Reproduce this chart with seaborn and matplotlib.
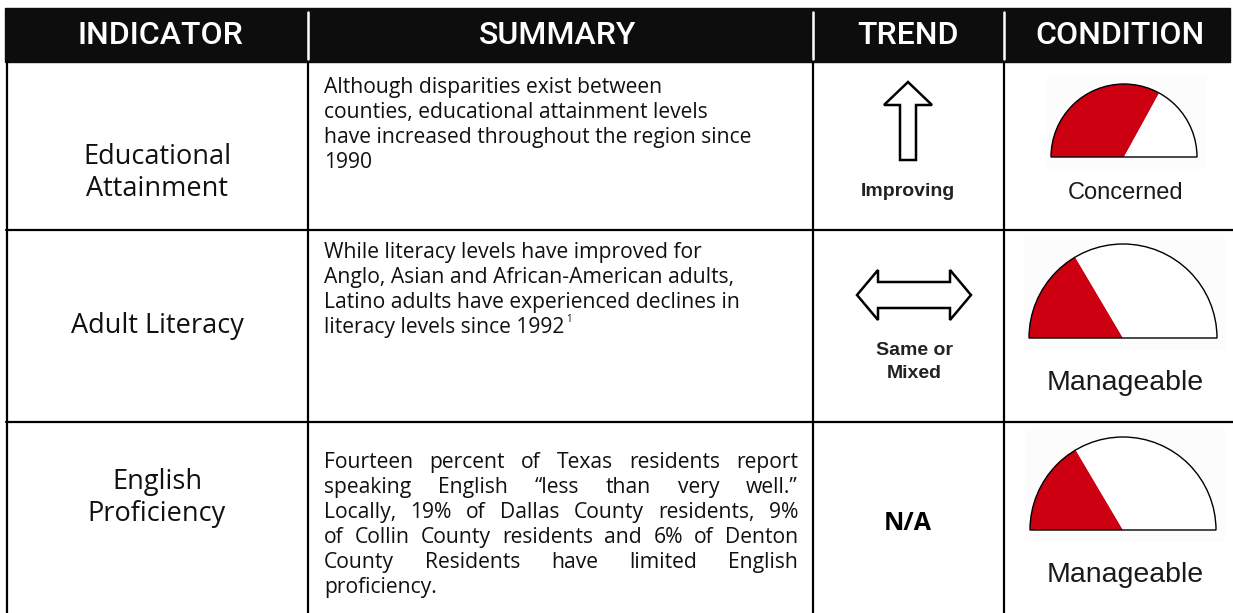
import numpy as np
import pandas as pd
import seaborn as sns
import matplotlib
matplotlib.use("Agg")
import matplotlib.pyplot as plt
from matplotlib import font_manager
from matplotlib.patches import Rectangle, Wedge, Polygon

# ---------------- data ----------------
headers = ["INDICATOR", "SUMMARY", "TREND", "CONDITION"]
indicators = ["Educational\nAttainment", "Adult Literacy", "English\nProficiency"]
summary_row1 = ["Although disparities exist between",
                "counties, educational attainment levels",
                "have increased throughout the region since",
                "1990"]
summary_row2 = ["While literacy levels have improved for",
                "Anglo, Asian and African-American adults,",
                "Latino adults have experienced declines in",
                "literacy levels since 1992"]
summary_row3 = ["Fourteen percent of Texas residents report",
                "speaking English \u201cless than very well.\u201d",
                "Locally, 19% of Dallas County residents, 9%",
                "of Collin County residents and 6% of Denton",
                "County Residents have limited English",
                "proficiency."]
footnotes = ["", "1", ""]
trend_labels = ["Improving", "Same or\nMixed", "N/A"]
trend_icons = ["up", "both", "none"]
condition_labels = ["Concerned", "Manageable", "Manageable"]
condition_levels = [0.66, 0.33, 0.33]   # share of gauge in red

# ---------------- style ----------------
sns.set_theme(style="white")
installed = {f.name for f in font_manager.fontManager.ttflist}
def pick(*names):
    for n in names:
        if n in installed:
            return n
    return "DejaVu Sans"
HEAD_FONT = pick("Liberation Sans Narrow", "DejaVu Sans Condensed", "Roboto", "Open Sans")
BODY_FONT = pick("Open Sans", "Noto Sans", "Lato")
ICON_FONT = pick("Liberation Sans", "Arial", "DejaVu Sans")
plt.rcParams["font.family"] = [BODY_FONT, "DejaVu Sans"]

W, H = 1233, 613
fig = plt.figure(figsize=(W / 100, H / 100), dpi=100)
ax = fig.add_axes([0, 0, 1, 1])
ax.set_xlim(0, W)
ax.set_ylim(H, 0)
ax.axis("off")

col_edges = [6, 308, 813, 1004, 1230]
row_edges = [62, 230, 422, 613]
head_top, head_bot = 8, 62
LW = 1.6
TEXT = "#111111"

# header band
ax.add_patch(Rectangle((5, head_top), 1225, head_bot - head_top, color="#0d0d0d", zorder=1))
for x in col_edges[1:4]:
    ax.plot([x, x], [head_top + 4, head_bot - 3], color="white", lw=1.8, zorder=2)
head_centers = [160, 558, 908, 1120]
for hx, t in zip(head_centers, headers):
    ax.text(hx, 36, t, color="white", fontsize=23, fontfamily=HEAD_FONT,
            fontweight="medium", ha="center", va="center", zorder=3)

# grid lines
ax.plot([7, 7], [head_bot, H], color="black", lw=LW, zorder=2)
for x in col_edges[1:4]:
    ax.plot([x, x], [head_bot, H], color="black", lw=LW, zorder=2)
for y in row_edges[1:3]:
    ax.plot([6, W], [y, y], color="black", lw=LW, zorder=2)

# indicator names
ind_y = [173, 326, 498]
for y, t in zip(ind_y, indicators):
    ax.text(157, y, t, fontsize=19.5, color=TEXT, ha="center", va="center",
            linespacing=1.2)

fig.canvas.draw()
renderer = fig.canvas.get_renderer()

def width_of(t):
    return t.get_window_extent(renderer).width

SUM_X, SUM_R = 324, 798
LINE_H = 25
SUM_FS = 15.2
BASE = 6   # baseline offset below the line centre

def ragged(lines, y0, note=""):
    last = None
    for i, ln in enumerate(lines):
        last = ax.text(SUM_X, y0 + i * LINE_H + BASE, ln, fontsize=SUM_FS, color=TEXT,
                       ha="left", va="baseline")
    if note:
        fig.canvas.draw()
        w = width_of(last)
        ax.text(SUM_X + w + 2, y0 + (len(lines) - 1) * LINE_H - 8, note,
                fontsize=7, color=TEXT, ha="left", va="center")

def justified(lines, y0):
    for i, ln in enumerate(lines):
        y = y0 + i * LINE_H + BASE
        words = ln.split(" ")
        if i == len(lines) - 1 or len(words) == 1:
            ax.text(SUM_X, y, ln, fontsize=SUM_FS, color=TEXT, ha="left", va="baseline")
            continue
        objs = [ax.text(0, y, w_, fontsize=SUM_FS, color=TEXT, ha="left", va="baseline")
                for w_ in words]
        fig.canvas.draw()
        widths = [width_of(o) for o in objs]
        gap = (SUM_R - SUM_X - sum(widths)) / (len(words) - 1)
        x = SUM_X
        for o, w_ in zip(objs, widths):
            o.set_x(x)
            x += w_ + gap

ragged(summary_row1, 87, footnotes[0])
ragged(summary_row2, 252, footnotes[1])
justified(summary_row3, 462)

# trend icons
TX = 908
def up_arrow(cx, top, bottom, head_hw, head_len, shaft_hw):
    pts = [(cx, top), (cx + head_hw, top + head_len), (cx + shaft_hw, top + head_len),
           (cx + shaft_hw, bottom), (cx - shaft_hw, bottom), (cx - shaft_hw, top + head_len),
           (cx - head_hw, top + head_len)]
    ax.add_patch(Polygon(pts, closed=True, facecolor="white", edgecolor="black",
                         lw=1.8, joinstyle="miter", zorder=3))

def both_arrow(cx, cy, half_len, head_hh, head_len, shaft_hh):
    l, r = cx - half_len, cx + half_len
    pts = [(l, cy), (l + head_len, cy - head_hh), (l + head_len, cy - shaft_hh),
           (r - head_len, cy - shaft_hh), (r - head_len, cy - head_hh), (r, cy),
           (r - head_len, cy + head_hh), (r - head_len, cy + shaft_hh),
           (l + head_len, cy + shaft_hh), (l + head_len, cy + head_hh)]
    ax.add_patch(Polygon(pts, closed=True, facecolor="white", edgecolor="black",
                         lw=1.8, joinstyle="miter", zorder=3))

trend_icon_y = [121, 295, None]
trend_label_y = [192, 362, 523]
for icon, iy, ly, lab in zip(trend_icons, trend_icon_y, trend_label_y, trend_labels):
    if icon == "up":
        up_arrow(TX, iy - 39, iy + 39, 24, 23, 8)
        ax.text(TX, ly, lab, fontsize=14, fontweight="bold", fontfamily=ICON_FONT,
                color="#222222", ha="center", va="center")
    elif icon == "both":
        both_arrow(TX + 6, iy, 57, 25, 21, 13)
        ax.text(TX + 6, ly, lab, fontsize=14, fontweight="bold", fontfamily=ICON_FONT,
                color="#222222", ha="center", va="center", linespacing=1.5)
    else:
        ax.text(TX, ly, lab, fontsize=18, fontweight="bold", color="black",
                ha="center", va="center")

# condition gauges
RED = "#cc0010"
gauge_cx = [1124, 1123, 1123]
gauge_base = [157, 338, 530]
gauge_r = [73, 94, 93]
cond_label_y = [193, 383, 575]
cond_fs = [17, 20.5, 20.5]
for cx, by, r, v, lab, ly, fs in zip(gauge_cx, gauge_base, gauge_r, condition_levels,
                                     condition_labels, cond_label_y, cond_fs):
    ax.add_patch(Rectangle((cx - r - 5, by - r - 8), 2 * r + 14, r + 20,
                           facecolor="#fcfcfc", edgecolor="none", zorder=1))
    ax.add_patch(Wedge((cx, by), r, 180, 180 + 180 * v, facecolor=RED,
                       edgecolor="none", zorder=3))
    ax.add_patch(Wedge((cx, by), r, 180 + 180 * v, 360, facecolor="white",
                       edgecolor="none", zorder=3))
    ax.add_patch(Wedge((cx, by), r, 180, 360, facecolor="none",
                       edgecolor="black", lw=1.0, zorder=4))
    ax.text(cx + 2, ly, lab, fontsize=fs, fontfamily=ICON_FONT, color="#1a1a1a",
            ha="center", va="center")

fig.savefig("out.png", dpi=100, facecolor="white")
